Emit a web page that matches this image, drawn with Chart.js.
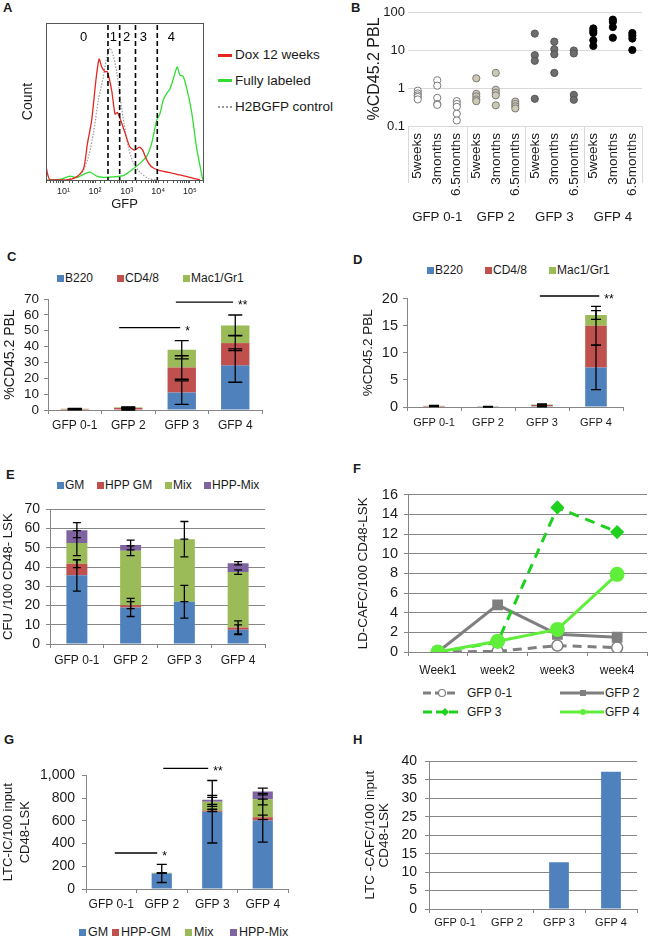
<!DOCTYPE html>
<html>
<head>
<meta charset="utf-8">
<script src="https://cdn.jsdelivr.net/npm/chart.js@4.4.0/dist/chart.umd.min.js"></script>
<style>
body { margin: 0; background: #fff; }
#fig { position: relative; width: 656px; height: 937px; overflow: hidden; font-family: "Liberation Sans", Arial, sans-serif; color: #1a1a1a; }
#fig canvas, .t { position: absolute; }
.t { white-space: nowrap; line-height: 1; }
.lbl { font-weight: bold; font-size: 13px; }
.sw { position: absolute; width: 7px; height: 7px; }
.lg { font-size: 12px; }
</style>
</head>
<body>
<div id="fig">
  <div class="t lbl" style="left:3px;top:1px">A</div>
  <div class="t lbl" style="left:351px;top:1px">B</div>
  <div class="t lbl" style="left:7px;top:250px">C</div>
  <div class="t lbl" style="left:353px;top:253px">D</div>
  <div class="t lbl" style="left:6px;top:468px">E</div>
  <div class="t lbl" style="left:353px;top:462px">F</div>
  <div class="t lbl" style="left:4px;top:733px">G</div>
  <div class="t lbl" style="left:353px;top:733px">H</div>

  <!-- A legend -->
  <div class="t" style="left:218px;top:54px;width:14px;height:3px;background:#e3261f"></div>
  <div class="t" style="left:235px;top:48px;font-size:13.5px">Dox 12 weeks</div>
  <div class="t" style="left:218px;top:79px;width:14px;height:3px;background:#33dd33"></div>
  <div class="t" style="left:235px;top:73.5px;font-size:13.5px">Fully labeled</div>
  <div class="t" style="left:218px;top:106px;width:14px;height:0;border-top:2px dotted #9a9a9a"></div>
  <div class="t" style="left:235px;top:100px;font-size:13.5px">H2BGFP control</div>

  <!-- C legend -->
  <div class="sw" style="left:57px;top:274.5px;background:#4f81bd"></div>
  <div class="t lg" style="left:65px;top:272px">B220</div>
  <div class="sw" style="left:117px;top:274.5px;background:#c0504d"></div>
  <div class="t lg" style="left:125px;top:272px">CD4/8</div>
  <div class="sw" style="left:183px;top:274.5px;background:#9bbb59"></div>
  <div class="t lg" style="left:191px;top:272px">Mac1/Gr1</div>

  <!-- D legend -->
  <div class="sw" style="left:427px;top:266.5px;background:#4f81bd"></div>
  <div class="t lg" style="left:435px;top:264px">B220</div>
  <div class="sw" style="left:485px;top:266.5px;background:#c0504d"></div>
  <div class="t lg" style="left:493px;top:264px">CD4/8</div>
  <div class="sw" style="left:549px;top:266.5px;background:#9bbb59"></div>
  <div class="t lg" style="left:557px;top:264px">Mac1/Gr1</div>

  <!-- E legend -->
  <div class="sw" style="left:57px;top:481.5px;background:#4f81bd"></div>
  <div class="t lg" style="left:65px;top:479px">GM</div>
  <div class="sw" style="left:97px;top:481.5px;background:#c0504d"></div>
  <div class="t lg" style="left:105px;top:479px">HPP GM</div>
  <div class="sw" style="left:165px;top:481.5px;background:#9bbb59"></div>
  <div class="t lg" style="left:173px;top:479px">Mix</div>
  <div class="sw" style="left:204px;top:481.5px;background:#8064a2"></div>
  <div class="t lg" style="left:212px;top:479px">HPP-Mix</div>

  <!-- F legend -->
  <svg class="t" style="left:423px;top:687px" width="36" height="12"><line x1="0" y1="6" x2="36" y2="6" stroke="#7f7f7f" stroke-width="3" stroke-dasharray="8,4"/><circle cx="19" cy="6" r="3.5" fill="#fff" stroke="#7f7f7f" stroke-width="1.2"/></svg>
  <div class="t lg" style="left:467px;top:687px">GFP 0-1</div>
  <svg class="t" style="left:560px;top:687px" width="44" height="12"><line x1="0" y1="6" x2="44" y2="6" stroke="#7f7f7f" stroke-width="3"/><rect x="20" y="3" width="6" height="6" fill="#7f7f7f"/></svg>
  <div class="t lg" style="left:605px;top:687px">GFP 2</div>
  <svg class="t" style="left:423px;top:706px" width="36" height="12"><line x1="0" y1="6" x2="36" y2="6" stroke="#1fd11f" stroke-width="3" stroke-dasharray="9,4"/><polygon points="22,2 26,6 22,10 18,6" fill="#1fd11f"/></svg>
  <div class="t lg" style="left:467px;top:706px">GFP 3</div>
  <svg class="t" style="left:560px;top:706px" width="44" height="12"><line x1="0" y1="6" x2="44" y2="6" stroke="#5fef3a" stroke-width="3"/><circle cx="23" cy="6" r="3" fill="#5fef3a"/></svg>
  <div class="t lg" style="left:605px;top:706px">GFP 4</div>

  <!-- G legend -->
  <div class="sw" style="left:79px;top:928.5px;background:#4f81bd"></div>
  <div class="t" style="left:88px;top:925.7px;font-size:12.5px">GM</div>
  <div class="sw" style="left:112px;top:928.5px;background:#c0504d"></div>
  <div class="t" style="left:121px;top:925.7px;font-size:12.5px">HPP-GM</div>
  <div class="sw" style="left:185px;top:928.5px;background:#9bbb59"></div>
  <div class="t" style="left:194px;top:925.7px;font-size:12.5px">Mix</div>
  <div class="sw" style="left:230px;top:928.5px;background:#8064a2"></div>
  <div class="t" style="left:239px;top:925.7px;font-size:12.5px">HPP-Mix</div>

  <canvas id="chartA"></canvas>
  <canvas id="chartB"></canvas>
  <canvas id="chartC"></canvas>
  <canvas id="chartD"></canvas>
  <canvas id="chartE"></canvas>
  <canvas id="chartF"></canvas>
  <canvas id="chartG"></canvas>
  <canvas id="chartH"></canvas>
</div>

<script>
// ---------- A: GFP histograms (count in % of axis height) ----------
const doxGfp = [2.8, 3.2, 3.8, 12.6, 26, 43, 57, 78, 107, 134, 162, 207, 245, 336, 428, 508, 646, 885, 1270, 1820, 2500, 3200, 4270, 6100, 11200, 23000, 48000, 100000, 209000];
const doxCount = [8.9, 3.2, 0, 0, 2, 7, 23, 38, 64, 77, 72, 69, 69, 57, 42, 43, 38, 30, 21, 19, 21, 19, 13, 8.5, 6, 4.7, 3.2, 1.7, 0];
const fullGfp = [2.8, 7.7, 16, 26, 48, 69, 113, 183, 380, 780, 1440, 2630, 4270, 6100, 8900, 11200, 14400, 18300, 23300, 29500, 39500, 48000, 61000, 78000, 112000, 162000, 234000, 260000];
const fullCount = [0, 0.4, 2.5, 1.5, 4, 5, 2.5, 1.7, 2, 2.8, 6.4, 10.6, 15, 23, 38, 42, 51, 55, 58, 64, 72, 67, 66, 59, 44, 21, 4, 0];
const ctrlGfp = [12.6, 34, 62, 89, 127, 183, 234, 298, 379, 483, 615, 824, 1129, 1623, 2634, 4830, 8860];
const ctrlCount = [0, 3, 15, 30, 51, 66, 78, 84, 79, 69, 53, 36, 21, 11, 5, 1, 0];
const gateBounds = [256, 600, 1900, 9300];
const gateNames = ['0', '1', '2', '3', '4'];
const gateNameAt = [43, 380, 1000, 3400, 26000];

// ---------- B: %CD45.2 PBL per mouse ----------
const timepoints = ['5weeks', '3months', '6.5months'];
const gfpGroups = ['GFP 0-1', 'GFP 2', 'GFP 3', 'GFP 4'];
const pbl01 = [[0.85, 0.72, 0.64, 0.58, 0.5], [1.6, 1.15, 0.55, 0.38, 0.36], [0.45, 0.38, 0.32, 0.21, 0.14]];
const pbl2 = [[1.8, 0.7, 0.6, 0.5, 0.45], [2.5, 0.9, 0.75, 0.64, 0.35], [0.44, 0.38, 0.33, 0.29]];
const pbl3 = [[27, 7.3, 5.2, 0.52], [16.6, 10.5, 7.7, 2.5], [9.7, 8.1, 0.66, 0.49]];
const pbl4 = [[37, 32, 28, 18, 12.8], [63, 55, 40, 21], [28, 24, 20, 10]];

// ---------- C ----------
const cB220 = [0.3, 0.3, 11, 28];
const cCD48 = [0.3, 1.0, 15.8, 14.2];
const cMac = [0.2, 0.4, 11.2, 11.1];
const cB220Err = [0.2, 0.3, 7.4, 10.5];
const cCD48Err = [0.2, 0.3, 7.4, 4.8];
const cMacErr = [0.2, 0.3, 5.8, 6.6];
const sigCFrom = [0.83, 1.89];
const sigCTo = [1.97, 2.96];
const sigCAt = [52, 68];
const sigCMark = ['*', '**'];

// ---------- D ----------
const dB220 = [0.1, 0.03, 0.15, 7.3];
const dCD48 = [0.1, 0.03, 0.2, 7.7];
const dMac = [0.05, 0.03, 0.1, 2.0];
const dB220Err = [0.03, 0.02, 0.1, 4.1];
const dCD48Err = [0.03, 0.02, 0.1, 3.6];
const dMacErr = [0.03, 0.02, 0.1, 0.8];
const sigDFrom = [1.96];
const sigDTo = [3.06];
const sigDAt = [20.5];
const sigDMark = ['**'];

// ---------- E: CFU ----------
const eGM = [35.7, 19, 22, 7.4];
const eHppGM = [6, 1.2, 0, 1.2];
const eMix = [10.8, 28.3, 32.5, 28.8];
const eHppMix = [6.7, 3, 0, 4.6];
const eGMErr = [8.2, 4.7, 8.5, 2.5];
const eHppGMErr = [2, 1.8, 0, 3.4];
const eMixErr = [6.5, 2.5, 9.2, 1.2];
const eHppMixErr = [3.9, 2.5, 0, 0.8];

// ---------- F: LD-CAFC ----------
const weeks = ['Week1', 'week2', 'week3', 'week4'];
const cafc01 = [0, 0.07, 0.65, 0.45];
const cafc2 = [0, 4.8, 1.8, 1.5];
const cafc3 = [0, 1.0, 14.7, 12.2];
const cafc4 = [0, 1.1, 2.3, 7.9];

// ---------- G: LTC-IC ----------
const gGM = [0, 137, 680, 602];
const gHppGM = [0, 0, 12, 29];
const gMix = [0, 5, 75, 160];
const gHppMix = [0, 0, 18, 67];
const gGMErr = [0, 80, 275, 190];
const gHppGMErr = [0, 0, 10, 20];
const gMixErr = [0, 0, 40, 50];
const gHppMixErr = [0, 0, 40, 30];
const sigGFrom = [0.07, 1.03];
const sigGTo = [0.91, 1.92];
const sigGAt = [317, 1061];
const sigGMark = ['*', '**'];

// ---------- H: LTC-CAFC ----------
const ltcCafc = [0, 0, 12.7, 37.2];

const BLUE = '#4f81bd', RED = '#c0504d', GREEN = '#9bbb59', PURPLE = '#8064a2';
const axisGray = '#868686';
const ink = '#1a1a1a';

Chart.defaults.font.family = '"Liberation Sans", Arial, sans-serif';
Chart.defaults.color = ink;

// canvas box [left, top, w, h] and plot area [l, t, r, b], page coords
const fit = (box, plot) => ({
    padding: { left: 0, top: plot[1] - box[1], right: box[0] + box[2] - plot[2], bottom: 0 },
    yWidth: plot[0] - box[0],
    xHeight: box[1] + box[3] - plot[3]
});

const place = (id, box) => {
    const c = document.getElementById(id);
    c.style.left = box[0] + 'px';
    c.style.top = box[1] + 'px';
    c.width = box[2];
    c.height = box[3];
    return c.getContext('2d');
};

const errorBars = (capW) => ({
    id: 'errorBars',
    afterDatasetsDraw: (chart) => {
        const { ctx } = chart;
        const y = chart.scales.y;
        const sets = chart.data.datasets;
        ctx.save();
        ctx.strokeStyle = '#000';
        ctx.lineWidth = 1.3;
        sets.forEach((ds, di) => {
            if (!ds.errors) return;
            chart.getDatasetMeta(di).data.forEach((bar, i) => {
                let top = 0;
                for (let k = 0; k <= di; k++) top += sets[k].data[i];
                const e = ds.errors[i];
                if (top === 0 && e === 0) return;
                const hi = y.getPixelForValue(top + e);
                const lo = y.getPixelForValue(top - e);
                ctx.beginPath();
                ctx.moveTo(bar.x, hi); ctx.lineTo(bar.x, lo);
                ctx.moveTo(bar.x - capW, hi); ctx.lineTo(bar.x + capW, hi);
                ctx.moveTo(bar.x - capW, lo); ctx.lineTo(bar.x + capW, lo);
                ctx.stroke();
            });
        });
        ctx.restore();
    }
});

const sigLines = (from, to, at, mark) => ({
    id: 'sigLines',
    afterDraw: (chart) => {
        if (!from) return;
        const { ctx } = chart;
        const x = chart.scales.x, y = chart.scales.y;
        ctx.save();
        ctx.strokeStyle = '#000';
        ctx.fillStyle = '#000';
        ctx.lineWidth = 1.3;
        ctx.font = '12px "Liberation Sans", Arial, sans-serif';
        ctx.textBaseline = 'alphabetic';
        from.forEach((f, k) => {
            const x0 = x.getPixelForValue(f), x1 = x.getPixelForValue(to[k]);
            const py = y.getPixelForValue(at[k]);
            ctx.beginPath();
            ctx.moveTo(x0, py); ctx.lineTo(x1, py);
            ctx.stroke();
            ctx.fillText(mark[k], x1 + 5, py + 7);
        });
        ctx.restore();
    }
});

const Figure = {
    charts: {},

    init: () => {
        Figure.drawA();
        Figure.drawB();
        Figure.drawC();
        Figure.drawD();
        Figure.drawE();
        Figure.drawF();
        Figure.drawG();
        Figure.drawH();
    },

    drawA: () => {
        const box = [0, 0, 215, 215];
        const lay = fit(box, [46, 23, 203, 180]);
        const ctx = place('chartA', box);
        const sup = ['\u2070', '\u00b9', '\u00b2', '\u00b3', '\u2074', '\u2075'];

        const gates = {
            id: 'gates',
            afterDatasetsDraw: (chart) => {
                const c = chart.ctx, a = chart.chartArea, x = chart.scales.x;
                c.save();
                c.strokeStyle = '#555';
                c.lineWidth = 1;
                c.strokeRect(a.left + 0.5, a.top + 0.5, a.right - a.left, a.bottom - a.top);
                c.strokeStyle = '#000';
                c.lineWidth = 1.6;
                c.setLineDash([5, 3]);
                gateBounds.forEach(g => {
                    const px = x.getPixelForValue(g);
                    c.beginPath();
                    c.moveTo(px, a.top + 2);
                    c.lineTo(px, a.bottom);
                    c.stroke();
                });
                c.setLineDash([]);
                c.fillStyle = '#000';
                c.font = '13px "Liberation Sans", Arial, sans-serif';
                c.textAlign = 'center';
                c.textBaseline = 'middle';
                gateNames.forEach((n, i) => c.fillText(n, x.getPixelForValue(gateNameAt[i]), a.top + 14));
                c.restore();
            }
        };

        Figure.charts.a = new Chart(ctx, {
            type: 'line',
            data: {
                datasets: [
                    { data: doxGfp.map((g, i) => ({ x: g, y: doxCount[i] })), borderColor: '#e3261f', borderWidth: 1.3, pointRadius: 0, tension: 0.25 },
                    { data: fullGfp.map((g, i) => ({ x: g, y: fullCount[i] })), borderColor: '#33dd33', borderWidth: 1.3, pointRadius: 0, tension: 0.25 },
                    { data: ctrlGfp.map((g, i) => ({ x: g, y: ctrlCount[i] })), borderColor: '#9a9a9a', borderWidth: 1.2, borderDash: [1.5, 1.5], pointRadius: 0, tension: 0.25 }
                ]
            },
            options: {
                responsive: false,
                animation: false,
                devicePixelRatio: 1,
                layout: { padding: lay.padding },
                plugins: { legend: { display: false }, tooltip: { enabled: false } },
                scales: {
                    x: {
                        type: 'logarithmic',
                        min: 2.8,
                        max: 260000,
                        afterFit: (s) => { s.height = lay.xHeight; },
                        grid: { drawOnChartArea: false, tickLength: 3, color: '#555' },
                        border: { display: false },
                        ticks: {
                            autoSkip: false,
                            maxRotation: 0,
                            font: { size: 9 },
                            padding: 3,
                            callback: (v) => {
                                const e = Math.log10(v);
                                return Math.abs(e - Math.round(e)) < 1e-9 && e >= 1 ? '10' + sup[Math.round(e)] : '';
                            }
                        },
                        title: { display: true, text: 'GFP', font: { size: 13 }, padding: { top: 0, bottom: 3 } }
                    },
                    y: {
                        min: 0,
                        max: 100,
                        afterFit: (s) => { s.width = lay.yWidth; },
                        grid: { display: false },
                        border: { display: false },
                        ticks: { display: false },
                        title: { display: true, text: 'Count', font: { size: 14 }, padding: { top: 19.6, bottom: 0 } }
                    }
                }
            },
            plugins: [gates]
        });
    },

    drawB: () => {
        const box = [330, 0, 326, 230];
        const lay = fit(box, [408, 12, 645, 126]);
        const ctx = place('chartB', box);
        const sets = [pbl01, pbl2, pbl3, pbl4];
        const fills = ['#ffffff', '#cdc9b3', '#6d6d6d', '#000000'];
        const edges = ['#7a7a7a', '#7a7a7a', '#555555', '#000000'];
        const light = '#d9d9d9';

        const separators = {
            id: 'separators',
            afterDraw: (chart) => {
                const c = chart.ctx, x = chart.scales.x, a = chart.chartArea;
                c.save();
                c.strokeStyle = light;
                c.lineWidth = 1;
                [-0.5, 2.5, 5.5, 8.5, 11.5].forEach(v => {
                    const px = Math.round(x.getPixelForValue(v)) + 0.5;
                    c.beginPath();
                    c.moveTo(px, a.bottom);
                    c.lineTo(px, 183);
                    c.stroke();
                });
                c.restore();
            }
        };

        Figure.charts.b = new Chart(ctx, {
            type: 'scatter',
            data: {
                datasets: sets.map((grp, g) => ({
                    data: grp.flatMap((vals, t) => vals.map(v => ({ x: g * 3 + t, y: v }))),
                    backgroundColor: fills[g],
                    borderColor: edges[g],
                    borderWidth: 1,
                    pointRadius: 3.6
                }))
            },
            options: {
                responsive: false,
                animation: false,
                devicePixelRatio: 1,
                layout: { padding: lay.padding },
                plugins: { legend: { display: false }, tooltip: { enabled: false } },
                scales: {
                    x: {
                        type: 'linear',
                        min: -0.5,
                        max: 11.5,
                        afterBuildTicks: (s) => { s.ticks = Array.from({ length: 12 }, (_, i) => ({ value: i })); },
                        afterFit: (s) => { s.height = 70; },
                        grid: { display: false, drawTicks: false },
                        border: { color: light },
                        ticks: { minRotation: 90, maxRotation: 90, autoSkip: false, font: { size: 13.5 }, padding: 7, callback: (v) => timepoints[v % 3] }
                    },
                    xg: {
                        type: 'linear',
                        position: 'bottom',
                        weight: 1,
                        min: -0.5,
                        max: 11.5,
                        afterBuildTicks: (s) => { s.ticks = gfpGroups.map((_, g) => ({ value: g * 3 + 1 })); },
                        afterFit: (s) => { s.height = lay.xHeight - 70; },
                        grid: { display: false, drawTicks: false },
                        border: { display: false },
                        ticks: { maxRotation: 0, autoSkip: false, font: { size: 13.3 }, padding: 13, callback: (v) => gfpGroups[(v - 1) / 3] }
                    },
                    y: {
                        type: 'logarithmic',
                        min: 0.1,
                        max: 100,
                        afterBuildTicks: (s) => { s.ticks = [0.1, 1, 10, 100].map(value => ({ value })); },
                        afterFit: (s) => { s.width = lay.yWidth; },
                        grid: { color: light, drawTicks: false },
                        border: { display: false },
                        ticks: { autoSkip: false, font: { size: 13 }, padding: 3, callback: (v) => String(v) },
                        title: { display: true, text: '%CD45.2 PBL', font: { size: 16 }, padding: { top: 35.4, bottom: 0 } }
                    }
                }
            },
            plugins: [separators]
        });
    },

    // shared builder for the stacked / plain bar panels
    bars: (id, box, plot, o) => {
        const lay = fit(box, plot);
        const ctx = place(id, box);
        return new Chart(ctx, {
            type: 'bar',
            data: {
                labels: gfpGroups,
                datasets: o.series.map(s => ({
                    data: s[0],
                    errors: s[1],
                    backgroundColor: s[2],
                    barPercentage: o.barFrac,
                    categoryPercentage: 1
                }))
            },
            options: {
                responsive: false,
                animation: false,
                devicePixelRatio: 1,
                layout: { padding: lay.padding },
                plugins: { legend: { display: false }, tooltip: { enabled: false } },
                scales: {
                    x: {
                        stacked: true,
                        afterFit: (s) => { s.height = lay.xHeight; },
                        grid: { drawOnChartArea: false, color: axisGray, tickLength: 4 },
                        border: { color: axisGray },
                        ticks: { font: { size: o.xFont }, padding: o.xPad, maxRotation: 0, autoSkip: false }
                    },
                    y: {
                        stacked: true,
                        min: 0,
                        max: o.yMax,
                        afterFit: (s) => { s.width = lay.yWidth; },
                        grid: { drawOnChartArea: o.yGrid, color: axisGray, tickLength: 4 },
                        border: { color: axisGray },
                        ticks: { autoSkip: false, stepSize: o.yStep, font: { size: o.yFont }, padding: o.yPad, callback: o.yFormat || ((v) => v) },
                        title: { display: true, text: o.title, font: { size: o.titleFont, lineHeight: o.titleLH || 1.2 }, padding: { top: o.titlePad, bottom: 0 } }
                    }
                }
            },
            plugins: [errorBars(o.capW), sigLines(o.sig && o.sig[0], o.sig && o.sig[1], o.sig && o.sig[2], o.sig && o.sig[3])]
        });
    },

    drawC: () => {
        Figure.charts.c = Figure.bars('chartC', [0, 285, 330, 155], [48, 299, 262, 410], {
            series: [[cB220, cB220Err, BLUE], [cCD48, cCD48Err, RED], [cMac, cMacErr, GREEN]],
            barFrac: 0.53, yMax: 70, yStep: 10, yFont: 13.5, yPad: 5, yGrid: false,
            xFont: 12, xPad: 4, title: '%CD45.2 PBL', titleFont: 14, titlePad: 1.6,
            capW: 7, sig: [sigCFrom, sigCTo, sigCAt, sigCMark]
        });
    },

    drawD: () => {
        Figure.charts.d = Figure.bars('chartD', [330, 285, 326, 155], [407, 295, 623, 407], {
            series: [[dB220, dB220Err, BLUE], [dCD48, dCD48Err, RED], [dMac, dMacErr, GREEN]],
            barFrac: 0.4, yMax: 20, yStep: 5, yFont: 14.5, yPad: 5, yGrid: false,
            xFont: 11, xPad: 5, title: '%CD45.2 PBL', titleFont: 13.5, titlePad: 30,
            capW: 5, sig: [sigDFrom, sigDTo, sigDAt, sigDMark]
        });
    },

    drawE: () => {
        Figure.charts.e = Figure.bars('chartE', [0, 495, 330, 180], [50, 508, 265, 644], {
            series: [[eGM, eGMErr, BLUE], [eHppGM, eHppGMErr, RED], [eMix, eMixErr, GREEN], [eHppMix, eHppMixErr, PURPLE]],
            barFrac: 0.39, yMax: 70, yStep: 10, yFont: 14, yPad: 6, yGrid: true,
            xFont: 12, xPad: 5, title: 'CFU /100 CD48- LSK', titleFont: 13.2, titlePad: 0,
            capW: 4
        });
    },

    drawF: () => {
        const box = [330, 480, 326, 205];
        const lay = fit(box, [408, 494, 655, 652]);
        const ctx = place('chartF', box);
        const gray = '#7f7f7f';
        Figure.charts.f = new Chart(ctx, {
            type: 'line',
            data: {
                labels: weeks,
                datasets: [
                    { data: cafc01, borderColor: gray, borderWidth: 3, borderDash: [9, 6], pointStyle: 'circle', pointRadius: 5.5, pointBackgroundColor: '#fff', pointBorderColor: gray, pointBorderWidth: 1.5, order: 3 },
                    { data: cafc2, borderColor: gray, borderWidth: 3, pointStyle: 'rect', pointRadius: 5.5, pointBackgroundColor: gray, pointBorderColor: gray, order: 2 },
                    { data: cafc3, borderColor: '#1fd11f', borderWidth: 3, borderDash: [10, 7], pointStyle: 'rectRot', pointRadius: 5, pointBackgroundColor: '#1fd11f', pointBorderColor: '#1fd11f', order: 1 },
                    { data: cafc4, borderColor: '#5fef3a', borderWidth: 3, pointStyle: 'circle', pointRadius: 6, pointBackgroundColor: '#5fef3a', pointBorderColor: '#5fef3a', order: 0 }
                ]
            },
            options: {
                responsive: false,
                animation: false,
                devicePixelRatio: 1,
                layout: { padding: lay.padding },
                plugins: { legend: { display: false }, tooltip: { enabled: false } },
                scales: {
                    x: {
                        offset: true,
                        afterFit: (s) => { s.height = lay.xHeight; },
                        grid: { offset: true, drawOnChartArea: false, color: axisGray, tickLength: 4 },
                        border: { color: axisGray },
                        ticks: { font: { size: 12 }, padding: 7, maxRotation: 0, autoSkip: false }
                    },
                    y: {
                        min: 0,
                        max: 16,
                        afterFit: (s) => { s.width = lay.yWidth; },
                        grid: { color: axisGray, tickLength: 4 },
                        border: { color: axisGray },
                        ticks: { autoSkip: false, stepSize: 2, font: { size: 14.5 }, padding: 6 },
                        title: { display: true, text: 'LD-CAFC/100 CD48-LSK', font: { size: 13.4 }, padding: { top: 25, bottom: 0 } }
                    }
                }
            }
        });
    },

    drawG: () => {
        Figure.charts.g = Figure.bars('chartG', [0, 760, 330, 160], [86, 774, 288, 889], {
            series: [[gGM, gGMErr, BLUE], [gHppGM, gHppGMErr, RED], [gMix, gMixErr, GREEN], [gHppMix, gHppMixErr, PURPLE]],
            barFrac: 0.4, yMax: 1000, yStep: 200, yFont: 14, yPad: 7, yGrid: false,
            yFormat: (v) => v.toLocaleString('en-US'),
            xFont: 12, xPad: 4, title: ['LTC-IC/100 input', 'CD48-LSK'], titleFont: 13, titleLH: 1.28, titlePad: 0,
            capW: 5, sig: [sigGFrom, sigGTo, sigGAt, sigGMark]
        });
    },

    drawH: () => {
        Figure.charts.h = Figure.bars('chartH', [330, 745, 326, 192], [429, 761, 637, 909], {
            series: [[ltcCafc, null, BLUE]],
            barFrac: 0.38, yMax: 40, yStep: 5, yFont: 14, yPad: 8, yGrid: true,
            xFont: 11, xPad: 3, title: ['LTC -CAFC/100 input', 'CD48-LSK'], titleFont: 13.5, titleLH: 1.0, titlePad: 33.7,
            capW: 5
        });
    }
};

if (document.readyState === 'loading') {
    document.addEventListener('DOMContentLoaded', Figure.init);
} else {
    Figure.init();
}
</script>
</body>
</html>
